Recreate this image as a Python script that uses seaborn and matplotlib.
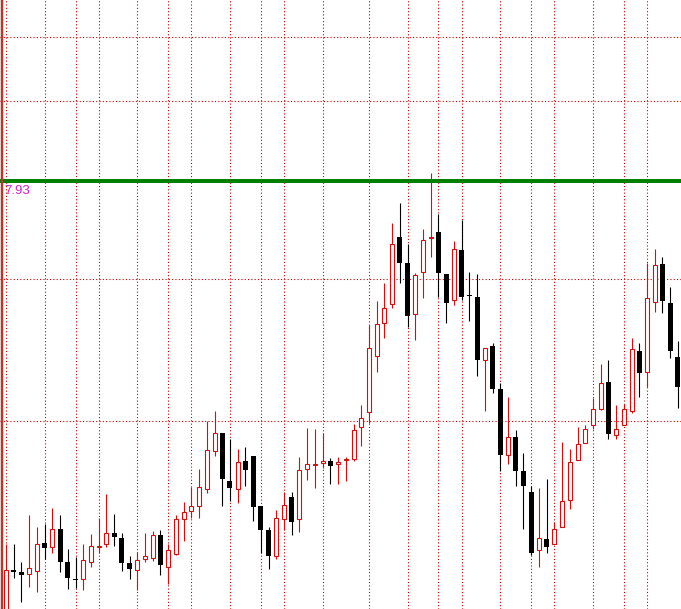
import numpy as np
import pandas as pd
import matplotlib
matplotlib.use("Agg")
import matplotlib.pyplot as plt
import seaborn as sns

# ---- data (prices) ----
opens = [7.496, 7.541, 7.539, 7.537, 7.540, 7.568, 7.564, 7.582, 7.549, 7.532,
         7.532, 7.549, 7.564, 7.567, 7.578, 7.573, 7.548, 7.541, 7.552, 7.553,
         7.576, 7.544, 7.557, 7.592, 7.600, 7.605, 7.622, 7.660, 7.678, 7.630,
         7.622, 7.650, 7.655, 7.605, 7.581, 7.555, 7.592, 7.614, 7.592, 7.642,
         7.646, 7.648, 7.650, 7.647, 7.651, 7.652, 7.684, 7.699, 7.755, 7.788,
         7.807, 7.874, 7.848, 7.797, 7.839, 7.873, 7.879, 7.837, 7.811, 7.861,
         7.816, 7.814, 7.751, 7.765, 7.722, 7.656, 7.674, 7.640, 7.619, 7.561,
         7.572, 7.567, 7.584, 7.611, 7.651, 7.668, 7.686, 7.702, 7.729, 7.676,
         7.686, 7.700, 7.760, 7.739, 7.809, 7.847, 7.808, 7.754]
highs = [7.567, 7.567, 7.549, 7.596, 7.584, 7.587, 7.603, 7.596, 7.562, 7.554,
         7.567, 7.577, 7.593, 7.617, 7.597, 7.578, 7.555, 7.559, 7.578, 7.580,
         7.581, 7.567, 7.596, 7.609, 7.624, 7.642, 7.690, 7.700, 7.678, 7.672,
         7.662, 7.664, 7.655, 7.605, 7.584, 7.601, 7.619, 7.619, 7.654, 7.683,
         7.682, 7.678, 7.653, 7.654, 7.654, 7.687, 7.706, 7.786, 7.810, 7.828,
         7.888, 7.908, 7.867, 7.838, 7.882, 7.938, 7.897, 7.837, 7.870, 7.891,
         7.839, 7.837, 7.763, 7.768, 7.728, 7.714, 7.681, 7.658, 7.625, 7.623,
         7.632, 7.589, 7.669, 7.662, 7.684, 7.686, 7.713, 7.747, 7.751, 7.706,
         7.707, 7.773, 7.768, 7.848, 7.862, 7.854, 7.824, 7.770]
lows = [7.486, 7.533, 7.509, 7.524, 7.519, 7.552, 7.558, 7.539, 7.522, 7.523,
        7.521, 7.544, 7.558, 7.564, 7.565, 7.540, 7.532, 7.521, 7.549, 7.550,
        7.536, 7.527, 7.556, 7.570, 7.593, 7.593, 7.618, 7.655, 7.605, 7.610,
        7.608, 7.625, 7.590, 7.558, 7.542, 7.552, 7.581, 7.576, 7.579, 7.631,
        7.623, 7.643, 7.627, 7.627, 7.630, 7.650, 7.665, 7.688, 7.739, 7.773,
        7.803, 7.828, 7.784, 7.771, 7.813, 7.854, 7.814, 7.788, 7.806, 7.811,
        7.790, 7.735, 7.700, 7.718, 7.640, 7.647, 7.625, 7.582, 7.556, 7.544,
        7.558, 7.567, 7.584, 7.602, 7.651, 7.668, 7.682, 7.701, 7.672, 7.672,
        7.686, 7.698, 7.714, 7.724, 7.799, 7.798, 7.753, 7.703]
closes = [7.541, 7.539, 7.536, 7.543, 7.567, 7.563, 7.582, 7.549, 7.533, 7.531,
          7.551, 7.565, 7.565, 7.578, 7.574, 7.548, 7.542, 7.551, 7.555, 7.576,
          7.546, 7.561, 7.592, 7.599, 7.605, 7.624, 7.661, 7.678, 7.632, 7.623,
          7.649, 7.641, 7.604, 7.581, 7.555, 7.593, 7.606, 7.589, 7.641, 7.647,
          7.647, 7.650, 7.645, 7.649, 7.652, 7.681, 7.693, 7.763, 7.787, 7.803,
          7.867, 7.848, 7.795, 7.836, 7.871, 7.874, 7.838, 7.808, 7.862, 7.814,
          7.815, 7.751, 7.763, 7.722, 7.656, 7.674, 7.640, 7.625, 7.558, 7.573,
          7.564, 7.582, 7.610, 7.649, 7.667, 7.682, 7.702, 7.728, 7.677, 7.682,
          7.702, 7.762, 7.738, 7.813, 7.846, 7.810, 7.760, 7.724]

level_price = 7.93
level_label = "7.93"
vgrid_bars = [0, 5, 9, 12, 17, 21, 24, 29, 33, 36, 41, 47, 52, 56, 59, 64,
              68, 71, 76, 80, 83]
hgrid_prices = [8.074, 8.010, 7.832, 7.690]

df = pd.DataFrame({"open": opens, "high": highs, "low": lows, "close": closes})
df["bar"] = np.arange(len(df))
df["high"] = df[["high", "open", "close"]].max(axis=1)
df["low"] = df[["low", "open", "close"]].min(axis=1)
df["up"] = df["close"] >= df["open"]

# ---- style ----
sns.set_style("white")
plt.rcParams["font.family"] = ["Liberation Sans", "DejaVu Sans"]

W, H, DPI = 681, 609, 100
fig = plt.figure(figsize=(W / DPI, H / DPI), dpi=DPI)
ax = fig.add_axes([0, 0, 1, 1])
ax.set_facecolor("white")

px_per_bar = 7.723
x_left = -6 / px_per_bar
ax.set_xlim(x_left, x_left + W / px_per_bar)
ax.set_ylim(8.111 - 0.609, 8.111)

px = 72 / DPI  # one pixel in points
red = "#d01010"
grid_c = "#c00000"

# grid (dotted)
for b in vgrid_bars:
    ax.axvline(b, color=grid_c, lw=1.1 * px, ls=(0, (1, 2)), zorder=0,
               snap=True)
for p in hgrid_prices:
    ax.axhline(p, color=grid_c, lw=1.1 * px, ls=(0, (1, 2)), zorder=0,
               snap=True)

# wicks
up = df[df["up"]]
dn = df[~df["up"]]
ax.vlines(up["bar"], up["low"], up["high"], color=red, lw=1.1 * px, zorder=2,
          snap=True)
ax.vlines(dn["bar"], dn["low"], dn["high"], color="black", lw=1.1 * px,
          zorder=2, snap=True)

# bodies
min_h = 0.0006
up_h = np.maximum((up["close"] - up["open"]).values, min_h)
ax.bar(up["bar"], up_h, bottom=up["open"].values, width=4 / px_per_bar,
       facecolor="white", edgecolor=red, linewidth=1.1 * px, zorder=3,
       snap=True)
dn_h = np.maximum((dn["open"] - dn["close"]).values, 0.0012)
ax.bar(dn["bar"], dn_h, bottom=dn["close"].values, width=5 / px_per_bar,
       facecolor="black", edgecolor="black", linewidth=0, zorder=3,
       snap=True)

# level line and label
ax.axhline(level_price, color="#008000", lw=4 * px, zorder=4,
           antialiased=False)
ax.text(x_left + 4 / px_per_bar, level_price - 0.0035, level_label,
        color="#cc22cc", fontsize=9.5, va="top", ha="left", zorder=5)

# left border line
ax.axvline(x_left + 1.5 / px_per_bar, color="#b03a2e", lw=2.5 * px, zorder=6)

ax.set_xticks([])
ax.set_yticks([])
for s in ax.spines.values():
    s.set_visible(False)

fig.savefig("out.png", dpi=DPI)
